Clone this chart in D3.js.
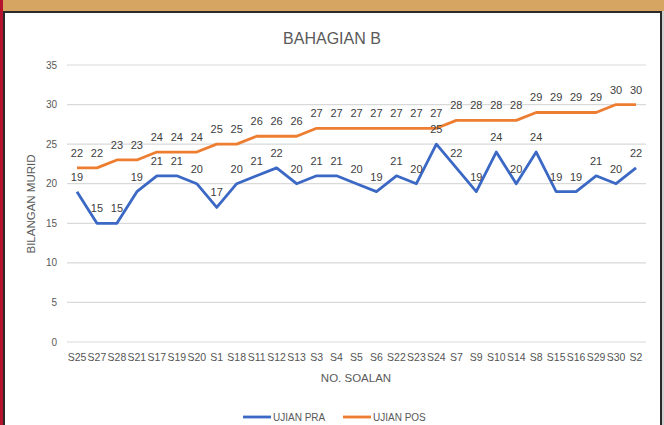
<!DOCTYPE html>
<html>
  <head>
    <meta charset="utf-8">
    <script src="https://d3js.org/d3.v7.min.js"></script>
    <style>
      body { margin: 0; background: #fff; }
      svg text { font-family: 'Liberation Sans', 'DejaVu Sans', sans-serif; }
    </style>
  </head>
  <body>
    <svg></svg>
    <script>
      const questions = ['S25', 'S27', 'S28', 'S21', 'S17', 'S19', 'S20', 'S1', 'S18', 'S11',
        'S12', 'S13', 'S3', 'S4', 'S5', 'S6', 'S22', 'S23', 'S24', 'S7',
        'S9', 'S10', 'S14', 'S8', 'S15', 'S16', 'S29', 'S30', 'S2']
      const ujianPra = [19, 15, 15, 19, 21, 21, 20, 17, 20, 21, 22, 20, 21, 21, 20, 19, 21, 20, 25, 22,
        19, 24, 20, 24, 19, 19, 21, 20, 22]
      const ujianPos = [22, 22, 23, 23, 24, 24, 24, 25, 25, 26, 26, 26, 27, 27, 27, 27, 27, 27, 27, 28,
        28, 28, 28, 29, 29, 29, 29, 30, 30]
      const yTicks = [0, 5, 10, 15, 20, 25, 30, 35]

      const series = [
        {name: 'UJIAN PRA', values: ujianPra, color: '#3a68c4'},
        {name: 'UJIAN POS', values: ujianPos, color: '#ed7d31'}
      ]

      const width = 664
      const height = 425

      const svg = d3.select('svg')
        .attr('width', width)
        .attr('height', height)

      // photo frame round the chart
      svg.append('rect').attr('x', 0).attr('y', 0).attr('width', width).attr('height', height).attr('fill', '#fff')
      svg.append('rect').attr('x', 0).attr('y', 0).attr('width', width).attr('height', 12).attr('fill', '#d6a562')
      svg.append('rect').attr('x', 0).attr('y', 0).attr('width', 3).attr('height', height).attr('fill', '#b5122e')
      svg.append('rect').attr('x', 3).attr('y', 11).attr('width', 658).attr('height', 2).attr('fill', '#2a2a2a')
      svg.append('rect').attr('x', 3).attr('y', 11).attr('width', 2).attr('height', height - 11).attr('fill', '#2a2a2a')
      svg.append('rect').attr('x', 660).attr('y', 11).attr('width', 2).attr('height', height - 11).attr('fill', '#2a2a2a')
      svg.append('rect').attr('x', 662).attr('y', 11).attr('width', 2).attr('height', height - 11).attr('fill', '#cfcfcf')

      const x = d3.scalePoint()
        .domain(questions)
        .range([67, 646])
        .padding(0.5)

      const y = d3.scaleLinear()
        .domain([0, 35])
        .range([342, 65])

      // grid + y labels
      svg.selectAll('.grid')
        .data(yTicks)
        .enter()
        .append('line')
          .attr('class', 'grid')
          .attr('x1', 67)
          .attr('x2', 646)
          .attr('y1', d => y(d))
          .attr('y2', d => y(d))
          .attr('stroke', '#d9d9d9')
          .attr('stroke-width', 1.2)

      svg.selectAll('.ytick')
        .data(yTicks)
        .enter()
        .append('text')
          .attr('class', 'ytick')
          .attr('x', 57)
          .attr('y', d => y(d))
          .attr('dy', '0.35em')
          .attr('text-anchor', 'end')
          .attr('font-size', 10)
          .attr('fill', '#595959')
          .text(d => d)

      svg.selectAll('.xtick')
        .data(questions)
        .enter()
        .append('text')
          .attr('class', 'xtick')
          .attr('x', d => x(d))
          .attr('y', 361)
          .attr('text-anchor', 'middle')
          .attr('font-size', 10.5)
          .attr('fill', '#555')
          .text(d => d)

      svg.append('text')
        .attr('x', 332)
        .attr('y', 44)
        .attr('text-anchor', 'middle')
        .attr('font-size', 16)
        .attr('fill', '#595959')
        .text('BAHAGIAN B')

      svg.append('text')
        .attr('x', 356)
        .attr('y', 382)
        .attr('text-anchor', 'middle')
        .attr('font-size', 11.5)
        .attr('fill', '#595959')
        .text('NO. SOALAN')

      svg.append('text')
        .attr('transform', 'translate(35,204) rotate(-90)')
        .attr('text-anchor', 'middle')
        .attr('font-size', 11.5)
        .attr('fill', '#595959')
        .text('BILANGAN MURID')

      const line = d3.line()
        .x((d, i) => x(questions[i]))
        .y(d => y(d))

      svg.selectAll('.series')
        .data(series)
        .enter()
        .append('path')
          .attr('class', 'series')
          .attr('d', d => line(d.values))
          .attr('fill', 'none')
          .attr('stroke', d => d.color)
          .attr('stroke-width', 2.8)
          .attr('stroke-linejoin', 'round')

      series.forEach(s => {
        svg.selectAll(null)
          .data(s.values)
          .enter()
          .append('text')
            .attr('x', (d, i) => x(questions[i]))
            .attr('y', d => y(d) - 11)
            .attr('text-anchor', 'middle')
            .attr('font-size', 11)
            .attr('fill', '#404040')
            .text(d => d)
      })

      // legend
      const legend = svg.selectAll('.legend')
        .data(series)
        .enter()
        .append('g')
          .attr('class', 'legend')
          .attr('transform', (d, i) => `translate(${243 + i * 100},417)`)

      legend.append('line')
        .attr('x1', 0)
        .attr('x2', 28)
        .attr('stroke', d => d.color)
        .attr('stroke-width', 2.8)

      legend.append('text')
        .attr('x', 30)
        .attr('dy', '0.35em')
        .attr('font-size', 10)
        .attr('fill', '#595959')
        .text(d => d.name)
    </script>
  </body>
</html>
